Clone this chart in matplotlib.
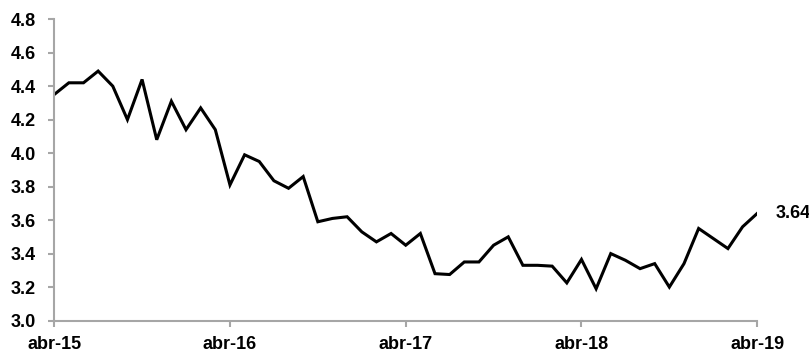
import matplotlib
matplotlib.use("Agg")
import matplotlib.pyplot as plt

plt.rcParams['font.family'] = ['Liberation Sans', 'DejaVu Sans']

values = [4.35, 4.42, 4.42, 4.49, 4.40, 4.20, 4.44, 4.08, 4.31, 4.14, 4.27, 4.14,
          3.81, 3.99, 3.95, 3.835, 3.79, 3.86, 3.59, 3.61, 3.62, 3.53, 3.47, 3.52,
          3.45, 3.52, 3.28, 3.275, 3.35, 3.35, 3.45, 3.50, 3.33, 3.33, 3.325, 3.225,
          3.365, 3.19, 3.40, 3.36, 3.31, 3.34, 3.20, 3.34, 3.55, 3.49, 3.43, 3.56,
          3.64]
tick_positions = [0, 12, 24, 36, 48]
tick_labels = ['abr-15', 'abr-16', 'abr-17', 'abr-18', 'abr-19']
y_ticks = [3.0, 3.2, 3.4, 3.6, 3.8, 4.0, 4.2, 4.4, 4.6, 4.8]
last_label = '3.64'

fig = plt.figure(figsize=(8.09, 3.55), dpi=100)
ax = fig.add_axes([0.067, 0.097, 0.869, 0.849])

x = list(range(len(values)))
ax.plot(x, values, color='black', linewidth=2.2, solid_joinstyle='miter')

ax.set_xlim(0, 48)
ax.set_ylim(3.0, 4.8)
ax.set_xticks(tick_positions)
ax.set_xticklabels(tick_labels)
ax.set_yticks(y_ticks)
ax.set_yticklabels([f'{v:.1f}' for v in y_ticks])

for s in ['top', 'right']:
    ax.spines[s].set_visible(False)
for s in ['left', 'bottom']:
    ax.spines[s].set_color('#a6a6a6')
    ax.spines[s].set_linewidth(1.5)

ax.tick_params(axis='both', colors='#a6a6a6', width=1.5, length=4,
               labelcolor='black', labelsize=13)
ax.tick_params(axis='x', pad=7)
ax.tick_params(axis='y', pad=9)
for lbl in ax.get_xticklabels() + ax.get_yticklabels():
    lbl.set_fontweight('bold')

ax.annotate(last_label, xy=(48, values[-1]), xytext=(13, 0), textcoords='offset points',
            ha='left', va='center', fontsize=13, fontweight='bold', annotation_clip=False)

fig.savefig('out.png', dpi=100)
